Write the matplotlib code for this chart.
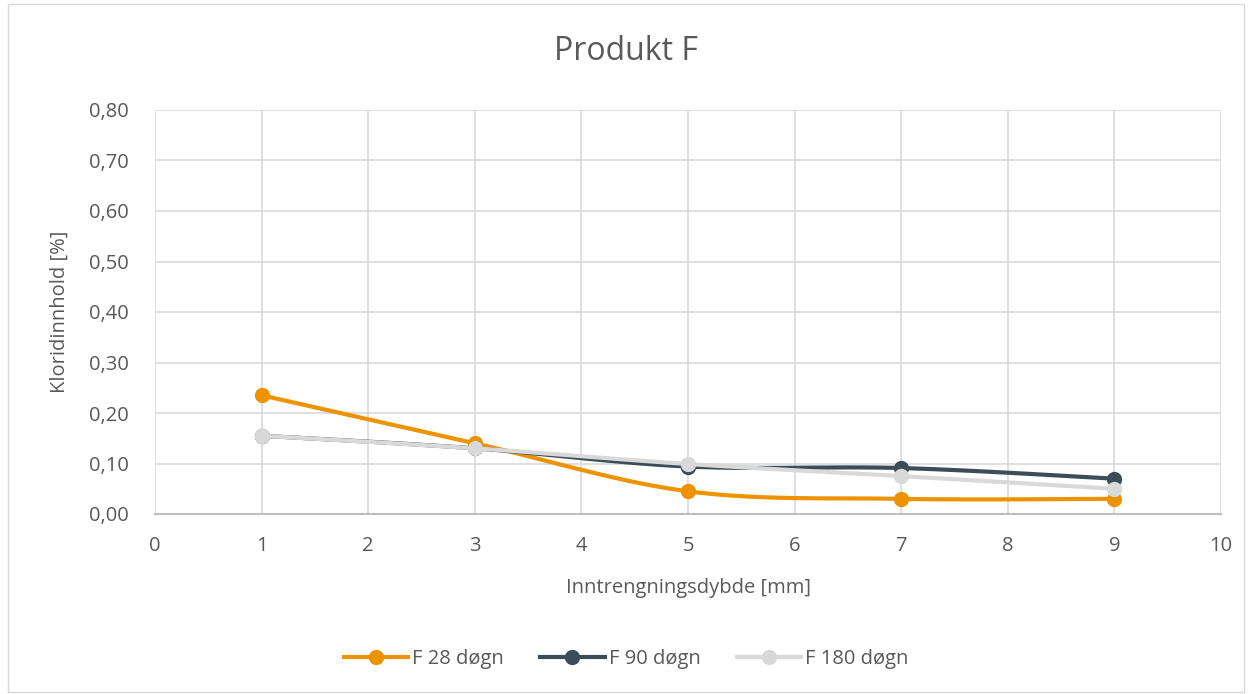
import numpy as np
import matplotlib.pyplot as plt
from matplotlib.patches import Rectangle

depth = [1, 3, 5, 7, 9]
f28 = [0.235, 0.14, 0.045, 0.03, 0.03]
f90 = [0.155, 0.13, 0.094, 0.091, 0.07]
f180 = [0.155, 0.13, 0.099, 0.075, 0.05]
labels = ['F 28 døgn', 'F 90 døgn', 'F 180 døgn']
colors = ['#EE9300', '#3C4D5A', '#D9D9D9']

plt.rcParams['font.family'] = ['Open Sans', 'DejaVu Sans']
txt = '#595959'


def smooth(x, y, n=30):
    # Catmull-Rom style bezier, like Excel's smoothed line
    x = np.asarray(x, float)
    y = np.asarray(y, float)
    px = np.concatenate([[x[0]], x, [x[-1]]])
    py = np.concatenate([[y[0]], y, [y[-1]]])
    xs, ys = [], []
    t = np.linspace(0, 1, n)
    for i in range(1, len(x)):
        p0 = np.array([px[i], py[i]])
        p3 = np.array([px[i + 1], py[i + 1]])
        c1 = p0 + (p3 - np.array([px[i - 1], py[i - 1]])) / 6
        c2 = p3 - (np.array([px[i + 2], py[i + 2]]) - p0) / 6
        b = ((1 - t) ** 3)[:, None] * p0 + (3 * (1 - t) ** 2 * t)[:, None] * c1 \
            + (3 * (1 - t) * t ** 2)[:, None] * c2 + (t ** 3)[:, None] * p3
        xs.extend(b[:, 0])
        ys.extend(b[:, 1])
    return xs, ys


fig = plt.figure(figsize=(12.52, 6.94), dpi=100)
ax = fig.add_axes([155 / 1252, 1 - 514 / 694, (1221 - 155) / 1252, (514 - 110) / 694])
fig.patches.append(Rectangle((8 / 1252, 2 / 694), 1 - 16 / 1252, 1 - 6 / 694, transform=fig.transFigure,
                             fill=False, edgecolor='#D9D9D9', lw=1))

for ys, c, lab, z in zip([f28, f90, f180], colors, labels, [3, 4, 5]):
    sx, sy = smooth(depth, ys)
    ax.plot(sx, sy, color=c, lw=3, zorder=z, solid_capstyle='round')
    ax.plot(depth, ys, 'o', color=c, ms=10, zorder=z)
    ax.plot([], [], '-o', color=c, lw=3, ms=10, label=lab)

ax.set_xlim(0, 10)
ax.set_ylim(0, 0.8)
ax.set_xticks(range(0, 11))
ax.set_yticks(np.arange(0, 0.81, 0.1))
ax.set_yticklabels([f'{v:.2f}'.replace('.', ',') for v in np.arange(0, 0.81, 0.1)])
ax.grid(True, color='#D9D9D9', lw=1.2)
ax.set_axisbelow(True)
for s in ['top', 'right', 'left']:
    ax.spines[s].set_visible(False)
ax.spines['bottom'].set_color('#BFBFBF')
ax.spines['bottom'].set_linewidth(1.5)
ax.tick_params(length=0, labelsize=14.5, colors=txt)
ax.tick_params(axis='y', pad=19)
ax.tick_params(axis='x', pad=16)

ax.set_xlabel('Inntrengningsdybde [mm]', fontsize=14.5, color=txt, labelpad=16)
ax.set_ylabel('Kloridinnhold [%]', fontsize=14.5, color=txt, labelpad=14)
fig.text(0.5, 1 - 52 / 694, 'Produkt F', ha='center', va='center', fontsize=23, color=txt)

fig.legend(loc='center', bbox_to_anchor=(0.5, 1 - 659 / 694), ncol=3, frameon=False,
           fontsize=14.5, labelcolor=txt, handlelength=3.2, handletextpad=0.2, columnspacing=1.8)

fig.savefig('out.png', dpi=100)
